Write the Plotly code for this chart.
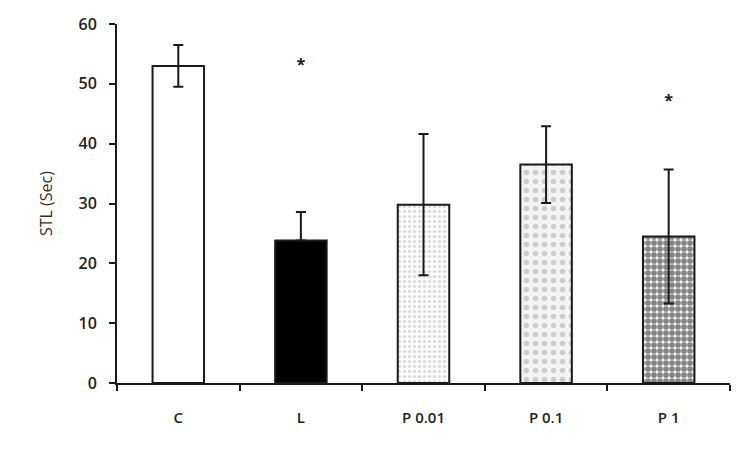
import plotly.graph_objects as go

groups = ["C", "L", "P 0.01", "P 0.1", "P 1"]
stl_mean = [53.0, 23.8, 29.8, 36.5, 24.5]
stl_err_up = [3.5, 4.8, 11.8, 6.4, 11.2]
stl_err_down = [3.5, 0.0, 11.8, 6.4, 11.2]
sig_groups = ["L", "P 1"]
sig_y = [53.0, 47.0]

# fill styles for each group: (bg colour, dot shape, dot colour, dot size, solidity)
fills = [
    ("white", "", "white", 8, 0.3),
    ("black", "", "black", 8, 0.3),
    ("#fbfbfb", ".", "#b8b8b8", 5, 0.3),
    ("#f3f3f3", ".", "#a8a8a8", 9, 0.3),
    ("#f2f2f2", ".", "#151515", 6, 0.7),
]

fig = go.Figure()
for i, g in enumerate(groups):
    bg, shape, fg, size, sol = fills[i]
    fig.add_trace(go.Bar(
        x=[g], y=[stl_mean[i]],
        width=0.42,
        marker=dict(
            color=bg,
            line=dict(color="#1a1a1a", width=2),
            pattern=dict(shape=shape, fgcolor=fg, bgcolor=bg, size=size,
                         solidity=sol, fillmode="overlay"),
        ),
        error_y=dict(type="data", array=[stl_err_up[i]], arrayminus=[stl_err_down[i]],
                     visible=True, color="#1a1a1a", thickness=2, width=5),
        showlegend=False,
    ))
fig.add_trace(go.Scatter(
    x=sig_groups, y=sig_y, mode="text", text=["*", "*"],
    textfont=dict(size=16, color="#1a1a1a", family="Open Sans", weight=700),
    showlegend=False, hoverinfo="skip",
))

fig.update_layout(
    width=737, height=439,
    margin=dict(l=109, r=15, t=16, b=64),
    plot_bgcolor="white", paper_bgcolor="white",
    font=dict(family="Open Sans", size=15, color="#222222"),
    barmode="overlay",
)
fig.update_xaxes(
    showline=True, linecolor="#1a1a1a", linewidth=2,
    ticks="outside", tickson="boundaries", ticklen=6, tickwidth=2, tickcolor="#1a1a1a",
    ticklabelstandoff=20, tickfont=dict(size=15, weight=600), automargin=False,
)
fig.update_yaxes(
    range=[0, 60], dtick=10,
    showline=True, linecolor="#1a1a1a", linewidth=2,
    ticks="outside", ticklen=6, tickwidth=2, tickcolor="#1a1a1a", ticklabelstandoff=9,
    showgrid=False, zeroline=False, tickfont=dict(size=16, weight=600), automargin=False,
    title=dict(text="STL (Sec)", font=dict(size=16, color="#3a2a1c"), standoff=22),
)

fig.write_html("out.html")
